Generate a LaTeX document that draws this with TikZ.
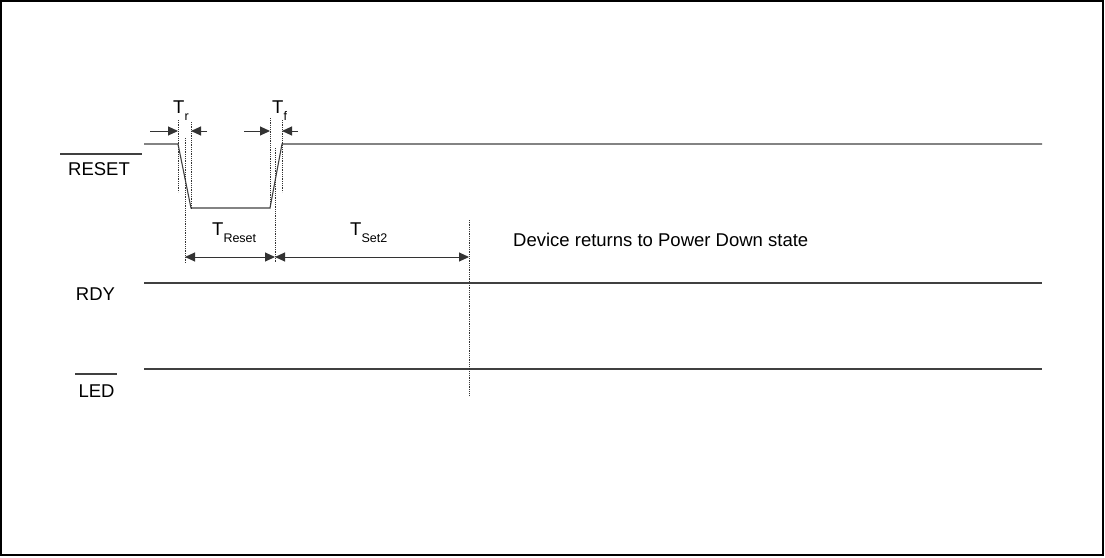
\documentclass[tikz,border=0pt]{standalone}
\usepackage{fontspec}
\setmainfont{Liberation Sans}
\usetikzlibrary{positioning,calc,arrows.meta}

\newcommand{\tsub}[1]{\raisebox{-7pt}{\fontsize{12.5}{14}\selectfont #1}}

\tikzset{
    signal/.style={line width=1.1pt, black!75},
    guide/.style={line width=0.8pt, black!80, dash pattern=on 0.9pt off 0.9pt},
    dimarrow/.style={line width=1pt, black!80, -{Triangle[length=10pt,width=9pt]}},
    dimboth/.style={line width=1pt, black!80, {Triangle[length=10pt,width=9pt]}-{Triangle[length=10pt,width=9pt]}},
    lbl/.style={inner sep=0pt, font=\fontsize{18.5}{22}\selectfont}
}

\begin{document}
\begin{tikzpicture}[x=1pt,y=-1pt]
    \useasboundingbox (0,0) rectangle (1105,557);

    % Frame
    \draw[line width=2pt] (1,1) rectangle (1103,555);

    % Signal names
    \node[lbl] (reset) at (99,169) {RESET};
    \draw[signal] (60,154) -- (142,154);
    \node[lbl] (rdy) at (95.5,294) {RDY};
    \node[lbl] (led) at (96.5,391) {LED};
    \draw[signal] (75,374) -- (117,374);

    % RESET waveform
    \coordinate (r0) at (144,144);
    \coordinate (r1) at (178,144);
    \coordinate (r2) at (191,208);
    \coordinate (r3) at (270,208);
    \coordinate (r4) at (282,144);
    \coordinate (r5) at (1042,144);
    \draw[signal] (r0) -- (r1) -- (r2) -- (r3) -- (r4) -- (r5);

    % RDY and LED
    \coordinate (y0) at (144,283);
    \coordinate (y1) at (1042,283);
    \coordinate (l0) at (144,369);
    \coordinate (l1) at (1042,369);
    \draw[signal] (y0) -- (y1);
    \draw[signal] (l0) -- (l1);

    % Guide lines
    \draw[guide] (178,120) -- (178,192);
    \draw[guide] (191,122) -- (191,210);
    \draw[guide] (185,138) -- (185,263);
    \draw[guide] (270,118) -- (270,208);
    \draw[guide] (282,120) -- (282,192);
    \draw[guide] (275,148) -- (275,263);
    \draw[guide] (469,220) -- (469,395);

    % Tr and Tf
    \coordinate (trA) at (150,131);
    \coordinate (trB) at (178,131);
    \coordinate (trC) at (207,131);
    \coordinate (trD) at (191,131);
    \draw[dimarrow] (trA) -- (trB);
    \draw[dimarrow] (trC) -- (trD);
    \coordinate (tfA) at (244,131);
    \coordinate (tfB) at (270,131);
    \coordinate (tfC) at (298,131);
    \coordinate (tfD) at (282,131);
    \draw[dimarrow] (tfA) -- (tfB);
    \draw[dimarrow] (tfC) -- (tfD);
    \node[lbl, anchor=base west] (tr) at (173,113) {T\tsub{r}};
    \node[lbl, anchor=base west] (tf) at (272,113) {T\tsub{f}};

    % TReset and TSet2
    \coordinate (dA) at (185,257);
    \coordinate (dB) at (275,257);
    \coordinate (dC) at (469,257);
    \draw[dimboth] (dA) -- (dB);
    \draw[dimboth] (dB) -- (dC);
    \node[lbl, anchor=base west] (treset) at (212,235) {T\tsub{Reset}};
    \node[lbl, anchor=base west] (tset) at (350,235) {T\tsub{Set2}};

    \node[lbl, anchor=west] (state) at (513,240) {Device returns to Power Down state};
\end{tikzpicture}
\end{document}
